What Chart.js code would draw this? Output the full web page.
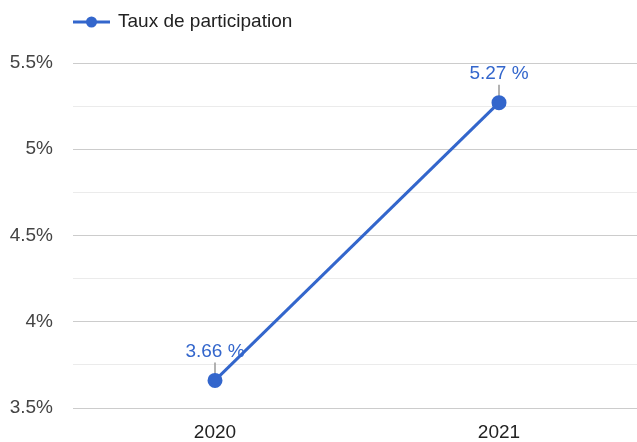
<!DOCTYPE html>
<html>
<head>
<meta charset="utf-8">
<script src="https://cdn.jsdelivr.net/npm/chart.js@4"></script>
<style>
  html, body { margin: 0; padding: 0; background: #fff; overflow: hidden; }
  /* plot runs a few px past the right edge, as in the reference */
  #wrap { width: 641px; height: 442px; position: relative; }
</style>
</head>
<body>
<div id="wrap"><canvas id="chart"></canvas></div>
<script>
// data
const years = ['2020', '2021'];
const rates = [3.66, 5.27];
const seriesName = 'Taux de participation';
const majorTicks = [3.5, 4, 4.5, 5, 5.5];

const blue = '#3366cc';
const fontFamily = '"Liberation Sans", Arial, Helvetica, sans-serif';

// legend: line + dot, then the series name
const lineLegend = {
  id: 'lineLegend',
  afterDraw(chart) {
    const ctx = chart.ctx;
    ctx.save();
    ctx.strokeStyle = blue;
    ctx.lineWidth = 3;
    ctx.beginPath();
    ctx.moveTo(73, 22);
    ctx.lineTo(110, 22);
    ctx.stroke();
    ctx.fillStyle = blue;
    ctx.beginPath();
    ctx.arc(91.5, 22, 5.5, 0, Math.PI * 2);
    ctx.fill();
    ctx.fillStyle = '#222';
    ctx.font = '19px ' + fontFamily;
    ctx.textBaseline = 'middle';
    ctx.fillText(seriesName, 118, 22);
    ctx.restore();
  }
};

// value labels above each point with a short gray leader
const valueLabels = {
  id: 'valueLabels',
  beforeDatasetsDraw(chart) {
    // leaders go under the dots
    const ctx = chart.ctx;
    ctx.save();
    ctx.strokeStyle = '#999';
    ctx.lineWidth = 1.5;
    chart.getDatasetMeta(0).data.forEach(pt => {
      ctx.beginPath();
      ctx.moveTo(pt.x, pt.y);
      ctx.lineTo(pt.x, pt.y - 18);
      ctx.stroke();
    });
    ctx.restore();
  },
  afterDatasetsDraw(chart) {
    const ctx = chart.ctx;
    ctx.save();
    ctx.fillStyle = blue;
    ctx.font = '19px ' + fontFamily;
    ctx.textAlign = 'center';
    ctx.textBaseline = 'middle';
    chart.getDatasetMeta(0).data.forEach((pt, i) => {
      ctx.fillText(rates[i].toFixed(2) + ' %', pt.x, pt.y - 29);
    });
    ctx.restore();
  }
};

new Chart(document.getElementById('chart'), {
  type: 'line',
  data: {
    labels: years,
    datasets: [{
      label: seriesName,
      data: rates,
      borderColor: blue,
      backgroundColor: blue,
      borderWidth: 3,
      pointRadius: 6,
      pointHoverRadius: 6,
      tension: 0
    }]
  },
  options: {
    responsive: true,
    maintainAspectRatio: false,
    animation: false,
    layout: { autoPadding: false, padding: { top: 63, right: 0, left: 0, bottom: 0 } },
    plugins: {
      legend: { display: false },
      tooltip: { enabled: false }
    },
    scales: {
      x: {
        offset: true,
        afterFit(scale) {
          scale.height = 34;
          scale.paddingLeft = 0;
          scale.paddingRight = 0;
        },
        grid: { display: false, drawTicks: false },
        border: { display: false },
        ticks: {
          color: '#222',
          padding: 13,
          font: { size: 19, family: fontFamily }
        }
      },
      y: {
        min: 3.5,
        max: 5.5,
        afterFit(scale) { scale.width = 73; },
        border: { display: false },
        grid: {
          drawTicks: false,
          color: ctx => majorTicks.includes(ctx.tick.value) ? '#cccccc' : '#ebebeb',
          lineWidth: 1
        },
        ticks: {
          stepSize: 0.25,
          padding: 20,
          color: '#444',
          font: { size: 19, family: fontFamily },
          callback: v => majorTicks.includes(v) ? v + '%' : ''
        }
      }
    }
  },
  plugins: [lineLegend, valueLabels]
});
</script>
</body>
</html>
